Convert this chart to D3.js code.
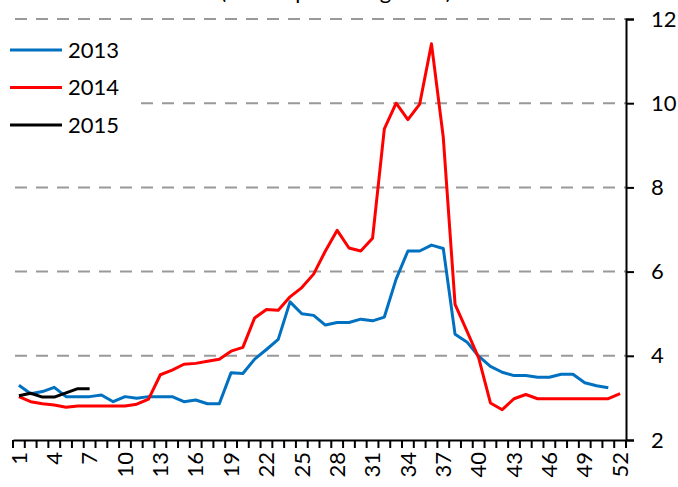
<!DOCTYPE html>
<html>
<head>
<meta charset="utf-8">
<script src="https://cdn.jsdelivr.net/npm/d3@7"></script>
<style>
  body { margin: 0; background: #fff; }
  text { font-family: Lato, "Open Sans", sans-serif; fill: #000; }
</style>
</head>
<body>
<div id="chart-area"></div>
<script>
// weekly values
var weeks = d3.range(1, 53);
var weekLabels = [1, 4, 7, 10, 13, 16, 19, 22, 25, 28, 31, 34, 37, 40, 43, 46, 49, 52];
var yTicks = [2, 4, 6, 8, 10, 12];

var s2013 = [3.3, 3.1, 3.15, 3.25, 3.03, 3.03, 3.03, 3.07, 2.91, 3.03,
             2.99, 3.03, 3.03, 3.03, 2.91, 2.95, 2.86, 2.86, 3.6, 3.58,
             3.92, 4.15, 4.39, 5.28, 5.0, 4.96, 4.73, 4.79, 4.79, 4.87,
             4.83, 4.92, 5.82, 6.49, 6.49, 6.63, 6.55, 4.51, 4.33, 3.99,
             3.75, 3.61, 3.53, 3.53, 3.49, 3.49, 3.56, 3.56, 3.36, 3.29, 3.24];
var s2014 = [3.03, 2.91, 2.86, 2.83, 2.78, 2.81, 2.81, 2.81, 2.81, 2.81,
             2.85, 2.97, 3.55, 3.66, 3.8, 3.82, 3.87, 3.92, 4.11, 4.2,
             4.9, 5.1, 5.08, 5.4, 5.62, 5.94, 6.49, 6.98, 6.56, 6.49,
             6.79, 9.39, 10.0, 9.61, 9.98, 11.41, 9.19, 5.22, 4.59, 3.95,
             2.88, 2.72, 2.98, 3.08, 2.98, 2.98, 2.98, 2.98, 2.98, 2.98, 2.98, 3.1];
var s2015 = [3.05, 3.11, 3.02, 3.02, 3.12, 3.22, 3.22];

var seriesNames = ["2013", "2014", "2015"];
var seriesColors = ["#0070C0", "#FF0000", "#000000"];
var seriesData = [s2013, s2014, s2015];

var width = 678, height = 487;
var plot = { left: 13, right: 626, top: 19, bottom: 440 };

var svg = d3.select("#chart-area")
    .append("svg")
        .attr("width", width)
        .attr("height", height);

var x = d3.scaleBand()
    .domain(weeks)
    .range([plot.left, plot.right]);

var y = d3.scaleLinear()
    .domain([2, 12])
    .range([plot.bottom, plot.top]);

// title, mostly cut off at the top edge
svg.append("text")
    .attr("x", 336)
    .attr("y", -1)
    .attr("font-size", "22px")
    .attr("text-anchor", "middle")
    .text("(annual percentage rate)");

// Gridlines
svg.append("g").selectAll("line")
    .data(yTicks.filter(function(d){ return d > 2; }))
    .enter().append("line")
        .attr("x1", plot.left + 2)
        .attr("x2", plot.right)
        .attr("y1", function(d){ return y(d); })
        .attr("y2", function(d){ return y(d); })
        .attr("stroke", "#999")
        .attr("stroke-width", 2)
        .attr("stroke-dasharray", "12,9");

// Lines
var line = d3.line()
    .x(function(d, i){ return x(weeks[i]) + x.bandwidth() / 2; })
    .y(function(d){ return y(d); });

svg.append("g").selectAll("path")
    .data(seriesData)
    .enter().append("path")
        .attr("d", line)
        .attr("fill", "none")
        .attr("stroke", function(d, i){ return seriesColors[i]; })
        .attr("stroke-width", 3)
        .attr("stroke-linejoin", "round");

// Y axis (right)
var yAxisCall = d3.axisRight(y)
    .tickValues(yTicks)
    .tickSize(8)
    .tickPadding(17)
    .tickFormat(d3.format("d"));

var yAxisGroup = svg.append("g")
    .attr("transform", "translate(" + plot.right + ",0)")
    .call(yAxisCall);
yAxisGroup.select(".domain").attr("stroke-width", 2);
yAxisGroup.selectAll(".tick line").attr("stroke-width", 2);
yAxisGroup.selectAll("text")
    .attr("font-size", "22px")
    .attr("font-family", "Lato, 'Open Sans', sans-serif");

// X axis: boundary ticks + rotated labels
var xAxisCall = d3.axisBottom(x)
    .tickValues(weekLabels)
    .tickSize(0)
    .tickPadding(0)
    .tickSizeOuter(0);

var xAxisGroup = svg.append("g")
    .attr("transform", "translate(0," + plot.bottom + ")")
    .call(xAxisCall);
xAxisGroup.select(".domain").attr("stroke-width", 2);
xAxisGroup.selectAll("text")
    .attr("font-size", "22px")
    .attr("font-family", "Lato, 'Open Sans', sans-serif")
    .attr("transform", "rotate(-90)")
    .attr("text-anchor", "end")
    .attr("x", -12)
    .attr("y", 0)
    .attr("dy", "0.35em");

xAxisGroup.selectAll(".edge")
    .data(weeks.concat([53]))
    .enter().append("line")
        .attr("class", "edge")
        .attr("x1", function(d){ return d > 52 ? plot.right : x(d); })
        .attr("x2", function(d){ return d > 52 ? plot.right : x(d); })
        .attr("y1", 0)
        .attr("y2", 8)
        .attr("stroke", "#000")
        .attr("stroke-width", 2);

// Legend
svg.append("rect")
    .attr("x", 0)
    .attr("y", 27)
    .attr("width", 135)
    .attr("height", 118)
    .attr("fill", "#fff");

var legend = svg.append("g").selectAll("g")
    .data(seriesNames)
    .enter().append("g")
        .attr("transform", function(d, i){ return "translate(10," + (50 + i * 37.5) + ")"; });

legend.append("line")
    .attr("x1", 0)
    .attr("x2", 52)
    .attr("stroke", function(d, i){ return seriesColors[i]; })
    .attr("stroke-width", 3);

legend.append("text")
    .attr("x", 58)
    .attr("dy", "0.35em")
    .attr("font-size", "22px")
    .text(function(d){ return d; });
</script>
</body>
</html>
